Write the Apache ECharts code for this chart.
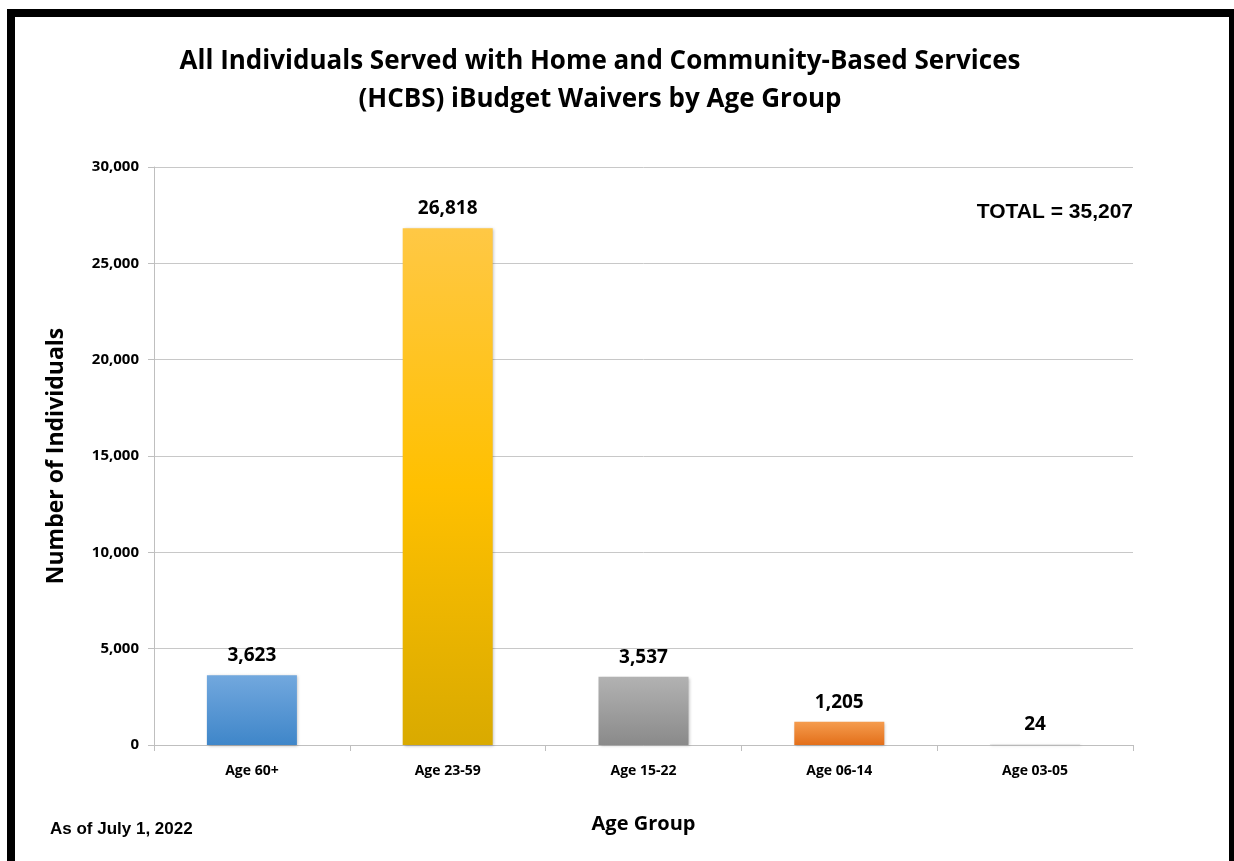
<!DOCTYPE html>
<html><head><meta charset="utf-8">
<script src="https://cdn.jsdelivr.net/npm/echarts@6/dist/echarts.min.js"></script>
<style>html,body{margin:0;padding:0;background:#fff}#c{width:1234px;height:861px}</style>
</head><body><div id="c"></div>
<script>
const categories = ["Age 60+", "Age 23-59", "Age 15-22", "Age 06-14", "Age 03-05"];
const values = [3623, 26818, 3537, 1205, 24];
const yTicks = [0, 5000, 10000, 15000, 20000, 25000, 30000];
const barColors = [
  ["#72a8de", "#3f86c9"],
  ["#ffc845", "#ffc000", "#d9aa00"],
  ["#b2b2b2", "#8a8a8a"],
  ["#f59c4e", "#e36f1a"],
  ["#d6d6d6", "#bcbcbc"]
];
function grad(cols){
  const stops = cols.map((c,i)=>({offset: i/(cols.length-1), color: c}));
  return new echarts.graphic.LinearGradient(0,0,0,1,stops);
}
const chart = echarts.init(document.getElementById('c'));
chart.setOption({
  animation: false,
  backgroundColor: '#fff',
  title: {
    text: 'All Individuals Served with Home and Community-Based Services\n(HCBS) iBudget Waivers by Age Group',
    left: 595, top: 38, textAlign: 'center',
    textStyle: {fontFamily: 'Open Sans', fontWeight: 'bold', fontSize: 26, lineHeight: 38, color: '#000'}
  },
  graphic: [
    {type: 'rect', shape: {x: 11, y: 13, width: 1222, height: 860}, style: {fill: 'none', stroke: '#000', lineWidth: 8}},
    {type: 'text', right: 101, top: 202, style: {text: 'TOTAL = 35,207', font: 'bold 21px "Liberation Sans", Arial', fill: '#000'}},
    {type: 'text', left: 50, top: 821, style: {text: 'As of July 1, 2022', font: 'bold 17px "Liberation Sans", Arial', fill: '#000'}}
  ],
  grid: {left: 154, right: 101, top: 167, bottom: 116},
  xAxis: {
    type: 'category', data: categories,
    name: 'Age Group', nameLocation: 'middle', nameGap: 69,
    nameTextStyle: {fontFamily: 'Open Sans', fontWeight: 'bold', fontSize: 20, color: '#000'},
    axisLine: {lineStyle: {color: '#bfbfbf'}},
    axisTick: {show: true, length: 6, lineStyle: {color: '#bfbfbf'}},
    axisLabel: {fontFamily: 'Open Sans', fontWeight: 'bold', fontSize: 14, color: '#000', margin: 19}
  },
  yAxis: {
    type: 'value', min: yTicks[0], max: yTicks[yTicks.length-1], interval: 5000,
    name: 'Number of Individuals', nameLocation: 'middle', nameGap: 86, nameRotate: 90,
    nameTextStyle: {fontFamily: 'Open Sans', fontWeight: 'bold', fontSize: 23, color: '#000'},
    axisLine: {show: true, lineStyle: {color: '#bfbfbf'}},
    axisTick: {show: true, length: 6, lineStyle: {color: '#bfbfbf'}},
    splitLine: {lineStyle: {color: '#c8c8c8'}},
    axisLabel: {fontFamily: 'Open Sans', fontWeight: 'bold', fontSize: 15, color: '#000', margin: 15,
      formatter: v => v.toLocaleString('en-US')}
  },
  series: [{
    type: 'bar', barWidth: 90,
    data: values.map((v,i)=>({value: v, itemStyle: {color: grad(barColors[i]), shadowColor: 'rgba(0,0,0,0.25)', shadowBlur: 3, shadowOffsetX: 1, shadowOffsetY: 1}})),
    label: {show: true, position: 'top', distance: 10, fontFamily: 'Open Sans', fontWeight: 'bold', fontSize: 19, color: '#000',
      formatter: p => p.value.toLocaleString('en-US')}
  }]
});
</script></body></html>
